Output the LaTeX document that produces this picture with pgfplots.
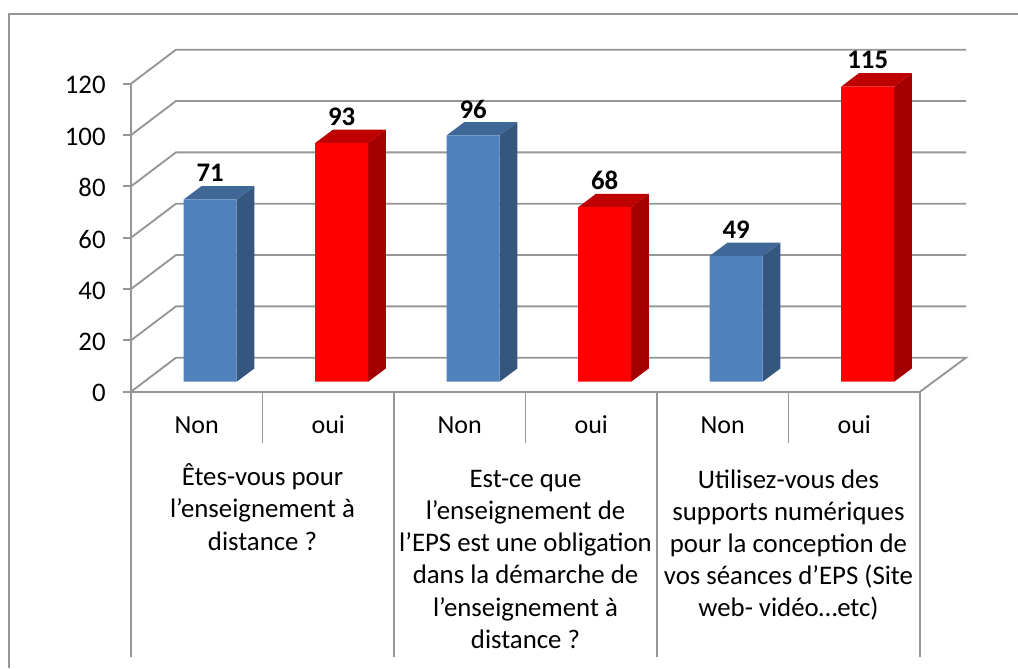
\documentclass[border=0pt]{standalone}
\usepackage{pgfplots}
\pgfplotsset{compat=1.18}
\usepackage{fontspec}
\setmainfont{Carlito}
\definecolor{gridg}{HTML}{969696}
\definecolor{bfront}{HTML}{4F81BD}
\definecolor{bside}{HTML}{34567F}
\definecolor{btop}{HTML}{3F6797}
\definecolor{rfront}{HTML}{FF0000}
\definecolor{rside}{HTML}{A50000}
\definecolor{rtop}{HTML}{BF0000}
\newcommand\lab{\fontsize{19.5}{24.4}\selectfont}
\newcommand\grp{\fontsize{20.1}{24.1}\selectfont}
\pgfplotsset{
  gl/.style={gridg,line width=1.4pt},
  face/.style={fill=#1,draw=none,forget plot,xshift=10.1pt,yshift=7.5pt},
  front/.style={ybar,bar width=39.75pt,bar shift=0pt,fill=#1,draw=none,xshift=10.1pt,yshift=7.5pt,
    nodes near coords,
    every node near coord/.append style={font=\grp\bfseries,text=black,anchor=center,yshift=19.75pt}},
}
\begin{document}
\begin{tikzpicture}
\useasboundingbox (-98.25pt,-207.225pt) rectangle (665.25pt,293.775pt);
\draw[gridg,line width=1.4pt] (-91.2pt,-207.225pt) -- (-91.2pt,283.2pt) -- (665.25pt,283.2pt);
\begin{axis}[
  scale only axis, width=591.75pt, height=231pt,
  xmin=0, xmax=6, ymin=0, ymax=120, clip=false,
  axis x line*=bottom, axis y line*=left,
  axis line style={gridg,line width=1.4pt},
  xtick={0.5,1.5,2.5,3.5,4.5,5.5},
  xticklabels={Non,oui,Non,oui,Non,oui},
  ytick={0,20,40,60,80,100,120},
  major tick length=6pt, tick align=outside,
  xtick style={draw=none},
  ytick style={gridg,line width=1.4pt},
  xticklabel style={font=\lab,text height=12.5pt,text depth=0pt,yshift=-9pt},
  yticklabel style={font=\grp,xshift=-9.5pt,yshift=-1.1pt},
  /pgf/number format/assume math mode=true,
]
% back wall and side wall grid lines
\addplot[gl] coordinates {(0,0)(0.342,13.25)(6.35,13.25)(6,0)};
\addplot[gl] coordinates {(0,20)(0.342,33.25)(6.35,33.25)};
\addplot[gl] coordinates {(0,40)(0.342,53.25)(6.35,53.25)};
\addplot[gl] coordinates {(0,60)(0.342,73.25)(6.35,73.25)};
\addplot[gl] coordinates {(0,80)(0.342,93.25)(6.35,93.25)};
\addplot[gl] coordinates {(0,100)(0.342,113.25)(6.35,113.25)};
\addplot[gl] coordinates {(0,120)(0.342,133.25)(6.35,133.25)};
% separators below axis
\addplot[gl] coordinates {(0,0)(0,-103.3)};
\addplot[gl] coordinates {(1,0)(1,-20)};
\addplot[gl] coordinates {(2,0)(2,-103.3)};
\addplot[gl] coordinates {(3,0)(3,-20)};
\addplot[gl] coordinates {(4,0)(4,-103.3)};
\addplot[gl] coordinates {(5,0)(5,-20)};
\addplot[gl] coordinates {(6,0)(6,-103.3)};
% side and top faces of the bars
\addplot[face=bside] coordinates {(0.7015,0)(0.8361,5.18)(0.8361,76.18)(0.7015,71)} --cycle;
\addplot[face=btop] coordinates {(0.2985,71)(0.7015,71)(0.8361,76.18)(0.4331,76.18)} --cycle;
\addplot[face=rside] coordinates {(1.7015,0)(1.8361,5.18)(1.8361,98.18)(1.7015,93)} --cycle;
\addplot[face=rtop] coordinates {(1.2985,93)(1.7015,93)(1.8361,98.18)(1.4331,98.18)} --cycle;
\addplot[face=bside] coordinates {(2.7015,0)(2.8361,5.18)(2.8361,101.18)(2.7015,96)} --cycle;
\addplot[face=btop] coordinates {(2.2985,96)(2.7015,96)(2.8361,101.18)(2.4331,101.18)} --cycle;
\addplot[face=rside] coordinates {(3.7015,0)(3.8361,5.18)(3.8361,73.18)(3.7015,68)} --cycle;
\addplot[face=rtop] coordinates {(3.2985,68)(3.7015,68)(3.8361,73.18)(3.4331,73.18)} --cycle;
\addplot[face=bside] coordinates {(4.7015,0)(4.8361,5.18)(4.8361,54.18)(4.7015,49)} --cycle;
\addplot[face=btop] coordinates {(4.2985,49)(4.7015,49)(4.8361,54.18)(4.4331,54.18)} --cycle;
\addplot[face=rside] coordinates {(5.7015,0)(5.8361,5.18)(5.8361,120.18)(5.7015,115)} --cycle;
\addplot[face=rtop] coordinates {(5.2985,115)(5.7015,115)(5.8361,120.18)(5.4331,120.18)} --cycle;
% front faces, from the values
\addplot[front=bfront] coordinates {(0.5,71)(2.5,96)(4.5,49)};
\addplot[front=rfront] coordinates {(1.5,93)(3.5,68)(5.5,115)};
% category group labels
\node[font=\grp,align=center,anchor=north] at (axis cs:1,-26.3) {Êtes-vous pour\\l’enseignement à\\distance ?};
\node[font=\grp,align=center,anchor=north] at (axis cs:3,-28.8) {Est-ce que\\l’enseignement de\\l’EPS est une obligation\\dans la démarche de\\l’enseignement à\\distance ?};
\node[font=\grp,align=center,anchor=north] at (axis cs:5,-28.5) {Utilisez-vous des\\supports numériques\\pour la conception de\\vos séances d’EPS (Site\\web- vidéo…etc)};
\end{axis}
\end{tikzpicture}
\end{document}
